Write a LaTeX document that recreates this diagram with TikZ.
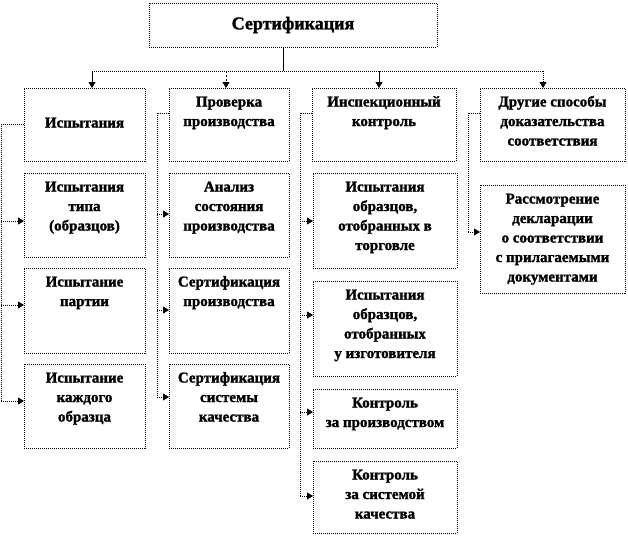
\documentclass[tikz,border=0pt]{standalone}
\usepackage{fontspec}
\setmainfont{Liberation Serif}[BoldFeatures={FakeBold=1.5}]
\usetikzlibrary{arrows.meta,calc}
\newcommand\bx[7]{%
  \node[box, minimum width={#4-#2}, minimum height={#5-#3}] (#1) at (#2,#3) {};
  \node[txt] (#1t) at ($(#1.north)+(0,#7)$) {\parbox[t]{140pt}{\centering #6}};
}
\begin{document}
\begin{tikzpicture}[x=1pt,y=-1pt,
  box/.style={draw, line width=0.8pt, dash pattern=on 1pt off 1pt, inner sep=0pt, outer sep=0pt, anchor=north west},
  txt/.style={inner sep=0pt, anchor=base, font=\bfseries\fontsize{15}{19.5}\selectfont},
  conn/.style={draw, line width=0.8pt, dash pattern=on 1pt off 1pt},
  tip/.style={-{Triangle[length=6pt,width=7pt]}},
  arr/.style={conn, tip},
  sol/.style={draw, line width=0.8pt}]
\useasboundingbox (0,0) rectangle (628,536);
\fill[white] (0,0) rectangle (628,536);

% title
\node[box, minimum width=288, minimum height=44] (t) at (149,3) {};
\node[inner sep=0pt, font=\bfseries\fontsize{18}{22}\selectfont] (tt) at (t.center) {Сертификация};

% row 1
\bx{b11}{24}{88}{145}{161}{Испытания}{39.5}
\bx{b21}{169}{88}{289}{161}{Проверка\\производства}{18.5}
\bx{b31}{312}{88}{456}{161}{Инспекционный\\контроль}{18.5}
\bx{b41}{480}{88}{625}{161}{Другие способы\\доказательства\\соответствия}{18.5}

% column 1
\bx{b12}{24}{173}{145}{257}{Испытания\\типа\\(образцов)}{18.5}
\bx{b13}{24}{268}{145}{353}{Испытание\\партии}{18.5}
\bx{b14}{24}{364}{145}{448}{Испытание\\каждого\\образца}{18.5}

% column 2
\bx{b22}{169}{173}{289}{257}{Анализ\\состояния\\производства}{18.5}
\bx{b23}{169}{268}{289}{353}{Сертификация\\производства}{18.5}
\bx{b24}{169}{364}{289}{448}{Сертификация\\системы\\качества}{18.5}

% column 3
\bx{b32}{313}{173}{457}{268}{Испытания\\образцов,\\отобранных в\\торговле}{18.5}
\bx{b33}{313}{281}{457}{376}{Испытания\\образцов,\\отобранных\\у изготовителя}{18.5}
\bx{b34}{313}{389}{457}{448}{Контроль\\за производством}{18.5}
\bx{b35}{313}{461}{457}{533}{Контроль\\за системой\\качества}{18.5}

% column 4
\bx{b42}{480}{185}{625}{293}{Рассмотрение\\декларации\\о соответствии\\с прилагаемыми\\документами}{18.5}

% top tree
\coordinate (j) at (283,71);
\coordinate (a1) at (92,71);
\coordinate (a2) at (226,71);
\coordinate (a3) at (379,71);
\coordinate (a4) at (543,71);
\draw[sol] (t.south -| j) -- (j);
\draw[conn] (a1) -- (a4);
\draw[sol, tip] (a1) -- (a1 |- b11.north);
\draw[line width=0.8pt, dash pattern=on 2pt off 2pt, tip] (a2) -- (a2 |- b21.north);
\draw[sol, tip] (a3) -- (a3 |- b31.north);
\draw[arr] (a4) -- (a4 |- b41.north);

% column 1 rail
\coordinate (s1) at (1,124.5);
\coordinate (c12) at (1,221);
\coordinate (c13) at (1,305);
\coordinate (c14) at (1,401);
\draw[conn] (b11.west) -- (s1) -- (c14);
\draw[arr] (c12) -- (c12 -| b12.west);
\draw[arr] (c13) -- (c13 -| b13.west);
\draw[arr] (c14) -- (c14 -| b14.west);

% column 2 rail
\coordinate (s2) at (157,113);
\coordinate (c22) at (157,214);
\coordinate (c23) at (157,310);
\coordinate (c24) at (157,397);
\draw[conn] (s2 -| b21.west) -- (s2) -- (c24);
\draw[arr] (c22) -- (c22 -| b22.west);
\draw[arr] (c23) -- (c23 -| b23.west);
\draw[arr] (c24) -- (c24 -| b24.west);

% column 3 rail
\coordinate (s3) at (300,113);
\coordinate (c32) at (300,221);
\coordinate (c33) at (300,315);
\coordinate (c34) at (300,412);
\coordinate (c35) at (300,496);
\draw[conn] (s3 -| b31.west) -- (s3) -- (c35);
\draw[arr] (c32) -- (c32 -| b32.west);
\draw[arr] (c33) -- (c33 -| b33.west);
\draw[arr] (c34) -- (c34 -| b34.west);
\draw[arr] (c35) -- (c35 -| b35.west);

% column 4 rail
\coordinate (s4) at (468,113);
\coordinate (c42) at (468,232);
\draw[conn] (s4 -| b41.west) -- (s4) -- (c42);
\draw[arr] (c42) -- (c42 -| b42.west);
\end{tikzpicture}
\end{document}
